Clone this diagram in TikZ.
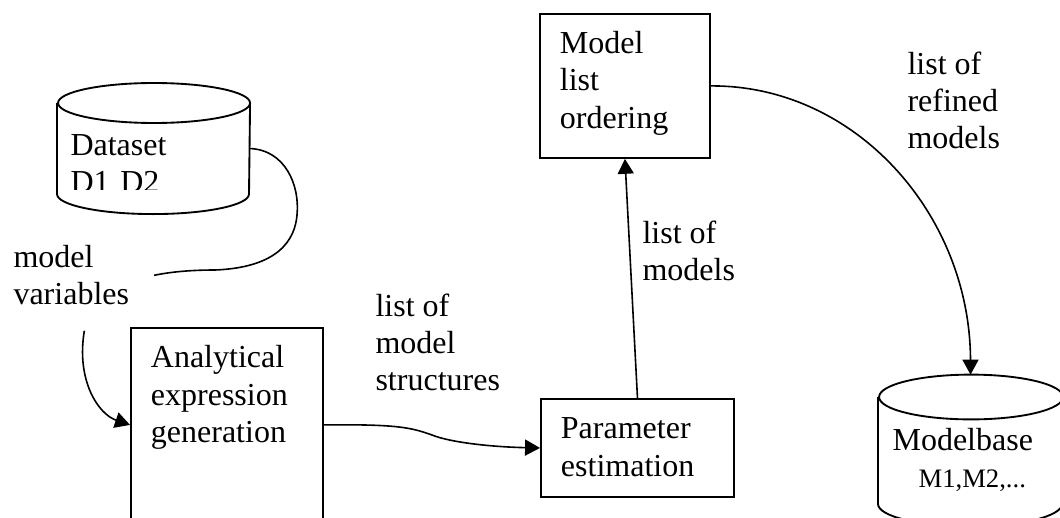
\documentclass[tikz,border=0pt]{standalone}
\usepackage{fontspec}
\setmainfont{Liberation Serif}
\usetikzlibrary{arrows.meta}

\begin{document}
\begin{tikzpicture}[x=0.375pt, y=-0.375pt,
    font=\fontsize{12pt}{13.9pt}\selectfont,
    stage/.style={draw, line width=0.7pt, anchor=north west, align=left,
      inner xsep=7.5pt, inner ysep=6.75pt, text height=8.25pt},
    drum/.style={anchor=north west, align=left, text height=8.25pt},
    note/.style={anchor=north west, align=left, inner sep=0pt},
    flow/.style={line width=0.6pt},
    arr/.style={flow, -{Triangle[length=5.6pt, width=6pt]}}]
  \useasboundingbox (0,0) rectangle (1060,517);
  \clip (0,0) rectangle (1060,517);

  % data store (text cut off at the bottom)
  \begin{scope}
    \clip (57,83) rectangle (249,189);
    \node[drum, inner xsep=4.875pt, inner ysep=11.25pt, text width=62.25pt,
      text depth=3pt] (dataset) at (57,103) {Dataset\\D1 D2};
  \end{scope}
  \draw[line width=0.7pt] (dataset.north west) -- (dataset.south west)
    arc[start angle=180, end angle=360, x radius=36pt, y radius=7.5pt]
    -- (dataset.north east)
    arc[start angle=0, end angle=360, x radius=36pt, y radius=7.5pt];

  % model base
  \node[drum, inner xsep=5.25pt, inner ysep=11.6pt, text width=58.5pt,
    text depth=8.25pt] (mbase) at (878,397)
    {Modelbase\\\hspace*{9.75pt}{\fontsize{10pt}{12pt}\selectfont M1,M2,...}};
  \draw[line width=0.7pt] (mbase.north west) -- (mbase.south west)
    arc[start angle=180, end angle=360, x radius=34.5pt, y radius=8.4pt]
    -- (mbase.north east)
    arc[start angle=0, end angle=360, x radius=34.5pt, y radius=8.4pt];

  % processing steps
  \node[stage, text width=48.75pt, text depth=32.25pt] (order) at (539,13)
    {Model\\list\\ordering};
  \node[stage, text width=57.4pt, text depth=15pt] (param) at (540,398)
    {Parameter\\estimation};
  \node[stage, text width=57pt, text depth=51pt] (gen) at (130,327)
    {Analytical\\expression\\generation};

  % flow labels
  \node[note] (vars) at (13,245) {model\\variables};
  \node[note] (structs) at (375,293) {list of\\model\\structures};
  \node[note] (models) at (642,220) {list of\\models};
  \node[note] (refined) at (907,51) {list of\\refined\\models};

  \coordinate (varin) at ([xshift=9.2pt]vars.east);
  \coordinate (varout) at ([xshift=4.9pt, yshift=-9.4pt]vars.south);

  % connectors
  \draw[flow] (dataset.east) .. controls (285,150) and (300,185) .. (297,215)
    .. controls (294,250) and (265,268) .. (215,270)
    .. controls (190,270) and (170,272) .. (varin);
  \draw[arr] (varout) .. controls (76,380) and (98,414) .. (gen.west);
  \draw[arr] (gen.east) .. controls (400,424) and (412,428) .. (432,435)
    .. controls (452,443) and (495,447) .. (param.west);
  \draw[arr] (param.north) -- (order.south);
  \draw[arr] (order.east) .. controls (855,85) and (970,214)
    .. ([yshift=8.4pt]mbase.north);
\end{tikzpicture}
\end{document}
